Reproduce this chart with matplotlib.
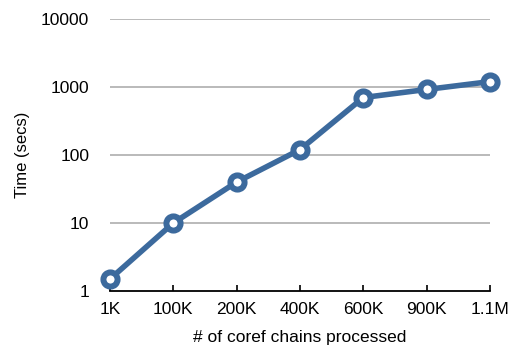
import matplotlib
matplotlib.use("Agg")
import matplotlib.pyplot as plt
from matplotlib.ticker import FixedLocator, FixedFormatter, NullLocator

plt.rcParams['font.family'] = ['Liberation Sans', 'DejaVu Sans']

categories = ["1K", "100K", "200K", "400K", "600K", "900K", "1.1M"]
times = [1.5, 10, 40, 120, 700, 920, 1200]
y_ticks = [1, 10, 100, 1000, 10000]
y_tick_labels = ["1", "10", "100", "1000", "10000"]

fig = plt.figure(figsize=(5.10, 3.46), dpi=100)
ax = fig.add_axes([110 / 510, 1 - 291 / 346, 380 / 510, 272 / 346])

x = list(range(len(categories)))
ax.set_yscale("log")
ax.set_ylim(1, 10000)
ax.set_xlim(0, len(categories) - 1)

for v in y_ticks[1:]:
    ax.axhline(v, color="#b4b4b4", lw=1.3, zorder=1)

ax.plot(x, times, color="#3c6a9d", lw=4.0, marker="o", ms=10.2,
        mew=4.3, mfc="white", mec="#3c6a9d", clip_on=False, zorder=3)

for s in ["top", "right", "left"]:
    ax.spines[s].set_visible(False)
ax.spines["bottom"].set_linewidth(1.3)
ax.spines["bottom"].set_color("black")

ax.xaxis.set_major_locator(FixedLocator(x))
ax.xaxis.set_major_formatter(FixedFormatter(categories))
ax.tick_params(axis="x", direction="in", length=4, width=1.2, pad=8,
               labelsize=12.5)

ax.yaxis.set_major_locator(FixedLocator(y_ticks))
ax.yaxis.set_major_formatter(FixedFormatter(y_tick_labels))
ax.yaxis.set_minor_locator(NullLocator())
ax.tick_params(axis="y", length=0, pad=15, labelsize=12.5)

ax.set_xlabel("# of coref chains processed", fontsize=12.5, labelpad=9)
ax.set_ylabel("Time (secs)", fontsize=12, labelpad=8)

fig.savefig("out.png", dpi=100)
